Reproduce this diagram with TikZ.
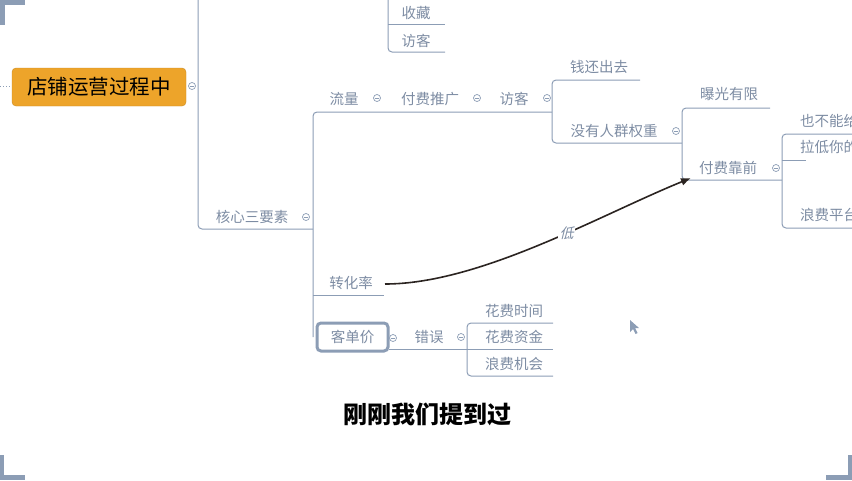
\documentclass[tikz,border=0pt]{standalone}
\usepackage{fontspec}
\newfontfamily\cjk{Noto Sans CJK SC}
\newfontfamily\cjkit[FakeSlant=0.25]{Noto Sans CJK SC}
\usetikzlibrary{arrows.meta}
\definecolor{lc}{HTML}{8C9DB5}
\definecolor{tc}{HTML}{7D8CA3}
\definecolor{og}{HTML}{EDA42A}
\definecolor{ar}{HTML}{2B2421}
\begin{document}
\begin{tikzpicture}[x=1pt,y=-1pt,
  br/.style={draw=lc,line width=1pt,rounded corners=4pt},
  lbl/.style={text=tc,font=\cjk\fontsize{14.5}{16}\selectfont,inner sep=0pt},
  knob/.style={circle,draw=lc,line width=0.7pt,minimum size=7pt,inner sep=0pt,fill=white,
    path picture={\draw[lc,line width=0.6pt] ([xshift=-1.6pt]path picture bounding box.center) -- ([xshift=1.6pt]path picture bounding box.center);}},
  corner/.style={fill=lc}
]
\useasboundingbox (0,0) rectangle (852,480);
\clip (0,0) rectangle (852,480);

% corner marks
\fill[corner] (0,0) rectangle (25,5);
\fill[corner] (0,0) rectangle (5,25);
\fill[corner] (0,455) rectangle (4,480);
\fill[corner] (0,475) rectangle (25,480);
\fill[corner] (848,455) rectangle (852,480);
\fill[corner] (826,475) rectangle (852,480);

% branch lines
\draw[br] (198,0) -- (198,229) -- (313,229);
\draw[br] (552,112) -- (313,112) -- (313,337);
\draw[br] (313,295) -- (384,295);
\draw[br] (640,80) -- (552,80) -- (552,143) -- (682,143);
\draw[br] (770,108) -- (682,108) -- (682,180) -- (782,180);
\draw[br] (870,134) -- (782,134) -- (782,228) -- (870,228);
\draw[br] (782,160) -- (806,160);
\draw[br] (388,0) -- (388,52) -- (445,52);
\draw[br] (388,24) -- (445,24);
\draw[br] (389,349) -- (467,349);
\draw[br] (553,323) -- (467,323) -- (467,376) -- (553,376);
\draw[br] (467,349) -- (553,349);
\draw[lc,line width=1pt,dotted] (0,86) -- (12,86);

% root
\node[fill=og,draw=og!85!black,line width=0.4pt,rounded corners=4pt,minimum width=174pt,minimum height=38pt,
  font=\cjk\fontsize{20.5}{22}\selectfont,text=black] (root) at (99,87) {店铺运营过程中};

% labels
\node[lbl] (sc) at (416,13) {收藏};
\node[lbl] (fk1) at (416,41) {访客};
\node[lbl] (ll) at (344,99) {流量};
\node[lbl] (fftg) at (430,99) {付费推广};
\node[lbl] (fk2) at (514,99) {访客};
\node[lbl] (qhcq) at (599,67) {钱还出去};
\node[lbl] (myrq) at (614,131) {没有人群权重};
\node[lbl] (bgyx) at (729,94) {曝光有限};
\node[lbl] (ffkq) at (728,168) {付费靠前};
\node[lbl,anchor=west] (ybn) at (800,121) {也不能给};
\node[lbl,anchor=west] (ldnd) at (800,147) {拉低你的};
\node[lbl,anchor=west] (lfpt) at (800,215) {浪费平台};
\node[lbl] (hxsys) at (252,217) {核心三要素};
\node[lbl] (zhl) at (351,283) {转化率};
\node[lbl,draw=lc,line width=3pt,rounded corners=4pt,fill=white,minimum width=71pt,minimum height=28pt] (kdj) at (352.5,337) {客单价};
\node[lbl] (cw) at (429,337) {错误};
\node[lbl] (hfsj) at (514,311) {花费时间};
\node[lbl] (hfzj) at (514,337) {花费资金};
\node[lbl] (lfjh) at (514,364) {浪费机会};

% knobs
\node[knob] (k1) at (192,86) {};
\node[knob] (k2) at (306,217) {};
\node[knob] (k3) at (377,98) {};
\node[knob] (k4) at (477,98) {};
\node[knob] (k5) at (547,98) {};
\node[knob] (k6) at (676,131) {};
\node[knob] (k7) at (776,168) {};
\node[knob] (k8) at (393,338) {};
\node[knob] (k9) at (461,337) {};

% arrow
\coordinate (a0) at (385,284);
\coordinate (a1) at (691,178);
\draw[ar,line width=1.6pt,-{Latex[length=10pt,width=8pt]}] (a0) .. controls (480,284) and (600,215) .. (a1)
  node[pos=0.585,fill=white,inner sep=1.5pt,text=tc,font=\cjkit\fontsize{14}{16}\selectfont] (di) {低};

% subtitle
\node[font=\cjk\bfseries\fontsize{24}{26}\selectfont,text=black] (sub) at (427,414) {刚刚我们提到过};

% mouse cursor
\fill[lc] (630,320) -- (630,332) -- (633,329) -- (635.5,334) -- (637.5,333) -- (635,328) -- (639,328) -- cycle;
\end{tikzpicture}
\end{document}
